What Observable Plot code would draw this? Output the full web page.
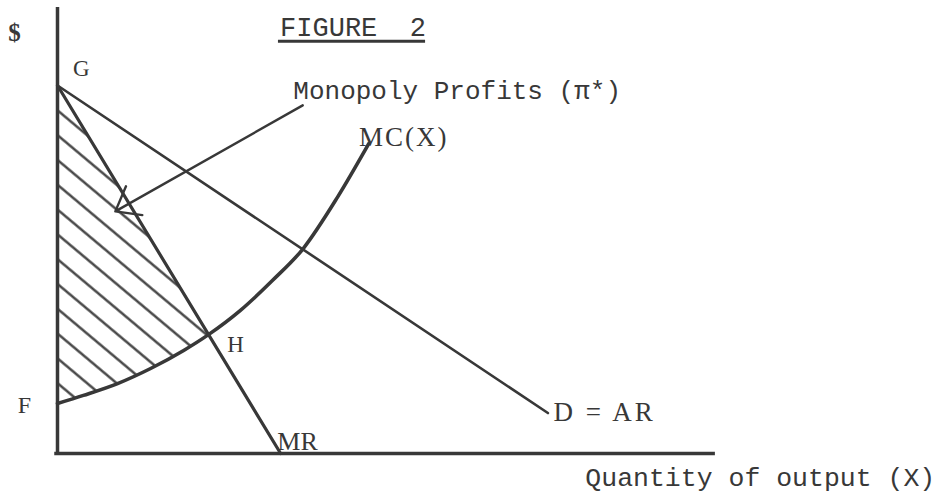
<!DOCTYPE html>
<html>
<head>
<meta charset="utf-8">
<script src="https://cdn.jsdelivr.net/npm/d3@7"></script>
<script src="https://cdn.jsdelivr.net/npm/@observablehq/plot@0.6"></script>
<style>
  html, body { margin: 0; padding: 0; background: #fff; }
</style>
</head>
<body>
<div id="chart"></div>
<script>
// Demand (average revenue) line: [quantity, price]
const demand = [[0, 10], [8.9, 1.1]];
// Marginal revenue line
const marginalRevenue = [[0, 10], [4.05, 0]];
// Marginal cost curve MC(X)
const marginalCost = [
  [0, 1.36], [0.47, 1.58], [1.09, 1.90], [1.69, 2.31], [2.29, 2.80],
  [2.74, 3.23], [3.32, 3.89], [3.90, 4.70], [4.46, 5.57], [5.08, 6.96],
  [5.65, 8.42]
];
// Monopoly profit region: G, then along MC from H back to F
const profitRegion = [
  [0, 10], [2.74, 3.23], [2.29, 2.80], [1.69, 2.31], [1.09, 1.90], [0.47, 1.58], [0, 1.36]
];
// Pointer from the "Monopoly Profits" label into the region
const pointer = [{x1: 4.45, y1: 9.46, x2: 1.05, y2: 6.58}];
// Axis extents
const axisX = [0, 11.94];
const axisY = [0, 12.12];

// Labels
const pointLabels = [
  {x: 0.28, y: 10.45, text: "G", size: 23},
  {x: 3.08, y: 2.95, text: "H", size: 23},
  {x: -0.72, y: 1.30, text: "F", size: 24},
  {x: 3.99, y: 0.33, text: "MR", size: 26},
  {x: 9.0, y: 1.11, text: "D = AR", size: 27},
  {x: 5.47, y: 8.58, text: "MC(X)", size: 27}
];
const monoLabels = [
  {x: 4.28, y: 9.86, text: "Monopoly Profits (\u03c0*)", size: 26},
  {x: 4.04, y: 11.58, text: "FIGURE  2", size: 27},
  {x: 9.58, y: -0.66, text: "Quantity of output (X)", size: 26.5}
];
const dollar = [{x: -0.78, y: 11.42, text: "$"}];
const underline = [{x1: 4.01, x2: 6.68, y: 11.2}];

const ink = "#383838";

function hatchDefs() {
  const ns = "http://www.w3.org/2000/svg";
  const defs = document.createElementNS(ns, "defs");
  const pat = document.createElementNS(ns, "pattern");
  pat.setAttribute("id", "hatch");
  pat.setAttribute("patternUnits", "userSpaceOnUse");
  pat.setAttribute("width", "19");
  pat.setAttribute("height", "19");
  pat.setAttribute("patternTransform", "rotate(40)");
  const ln = document.createElementNS(ns, "line");
  ln.setAttribute("x1", "-2"); ln.setAttribute("x2", "21");
  ln.setAttribute("y1", "9.5"); ln.setAttribute("y2", "9.5");
  ln.setAttribute("stroke", ink);
  ln.setAttribute("stroke-width", "2.3");
  pat.appendChild(ln);
  defs.appendChild(pat);
  return defs;
}

const chart = Plot.plot({
  width: 948,
  height: 498,
  marginTop: 0, marginRight: 0, marginBottom: 0, marginLeft: 0,
  x: {domain: [0, 10], range: [57, 608], axis: null},
  y: {domain: [0, 10], range: [453, 85], axis: null},
  style: {background: "#fff"},
  marks: [
    hatchDefs,
    Plot.line(profitRegion, {x: d => d[0], y: d => d[1], fill: "url(#hatch)", stroke: "none", curve: "linear"}),
    Plot.ruleX([0], {y1: axisY[0], y2: axisY[1], stroke: ink, strokeWidth: 3.5}),
    Plot.ruleY([0], {x1: axisX[0] - 0.05, x2: axisX[1], stroke: ink, strokeWidth: 3.5}),
    Plot.line(demand, {x: d => d[0], y: d => d[1], stroke: ink, strokeWidth: 2.6}),
    Plot.line(marginalRevenue, {x: d => d[0], y: d => d[1], stroke: ink, strokeWidth: 3.2}),
    Plot.line(marginalCost, {x: d => d[0], y: d => d[1], stroke: ink, strokeWidth: 3.6, curve: "monotone-x"}),
    Plot.arrow(pointer, {x1: "x1", y1: "y1", x2: "x2", y2: "y2", stroke: ink, strokeWidth: 2.4, headLength: 17, headAngle: 75, bend: 0}),
    Plot.ruleY(underline, {y: "y", x1: "x1", x2: "x2", stroke: ink, strokeWidth: 3}),
    Plot.text(pointLabels, {x: "x", y: "y", text: "text", fontSize: d => d.size, textAnchor: "start", fontFamily: "Liberation Serif", fill: ink}),
    Plot.text(monoLabels, {x: "x", y: "y", text: "text", fontSize: d => d.size, textAnchor: "start", fontFamily: "Liberation Mono", fill: ink}),
    Plot.text(dollar, {x: "x", y: "y", text: "text", fontSize: 25, fontWeight: "bold", fontFamily: "Liberation Serif", fill: ink})
  ]
});
// letter spacing for the spaced serif labels
chart.querySelectorAll("text").forEach(t => {
  if (t.textContent === "D = AR") t.setAttribute("letter-spacing", "3");
  if (t.textContent === "MC(X)") t.setAttribute("letter-spacing", "2");
});
document.getElementById("chart").appendChild(chart);
</script>
</body>
</html>
